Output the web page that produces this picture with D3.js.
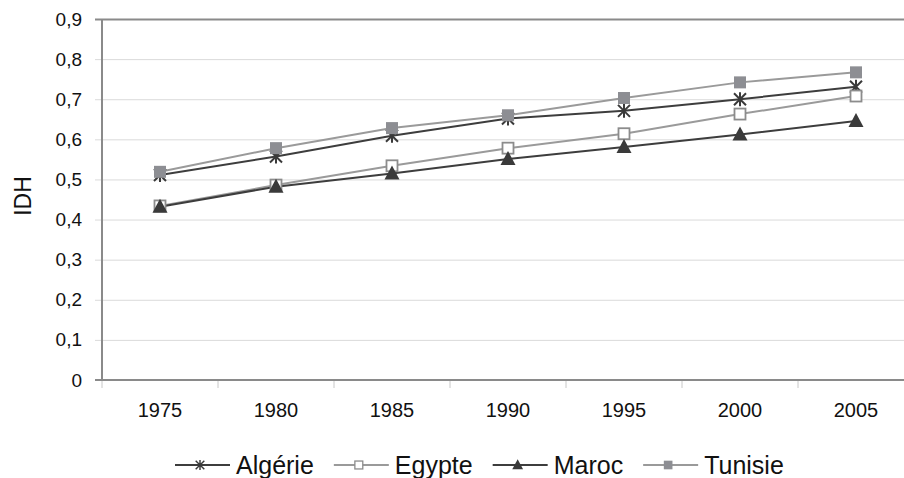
<!DOCTYPE html>
<html>
<head>
<meta charset="utf-8">
<script src="https://cdn.jsdelivr.net/npm/d3@7"></script>
<style>
  body { margin: 0; background: #fff; }
  text { font-family: "Liberation Sans", Arial, sans-serif; fill: #111; }
</style>
</head>
<body>
<svg id="chart" width="904" height="478"></svg>
<script>
// data
const years = ["1975", "1980", "1985", "1990", "1995", "2000", "2005"];
const algerie = [0.511, 0.557, 0.609, 0.652, 0.671, 0.700, 0.731];
const egypte = [0.434, 0.486, 0.534, 0.578, 0.614, 0.663, 0.708];
const maroc = [0.432, 0.482, 0.515, 0.551, 0.581, 0.612, 0.646];
const tunisie = [0.519, 0.578, 0.628, 0.660, 0.703, 0.742, 0.767];
const yTicks = [0, 0.1, 0.2, 0.3, 0.4, 0.5, 0.6, 0.7, 0.8, 0.9];

const series = [
  { name: "Algérie", values: algerie, line: "#3d3d3d", marker: "star" },
  { name: "Egypte", values: egypte, line: "#9a9a9a", marker: "openSquare" },
  { name: "Maroc", values: maroc, line: "#3d3d3d", marker: "triangle" },
  { name: "Tunisie", values: tunisie, line: "#9a9a9a", marker: "square" },
];

/******** scales ********/
const plotLeft = 102, plotTop = 19, plotBottom = 380, band = 116;
const svg = d3.select("#chart");
const x = d3.scaleBand().domain(years).range([plotLeft, plotLeft + band * years.length]).padding(0);
const y = d3.scaleLinear().domain([0, 0.9]).range([plotBottom, plotTop]);
const cx = (d) => x(d) + x.bandwidth() / 2;
const fmt = (d) => (d === 0 ? "0" : d.toFixed(1).replace(".", ","));

/******** grid + axes ********/
const yAxis = d3.axisLeft(y).tickValues(yTicks).tickFormat(fmt).tickSize(0).tickPadding(20);
const gy = svg.append("g").attr("transform", `translate(${plotLeft},0)`).call(yAxis);
gy.select(".domain").remove();
gy.selectAll(".tick text").style("font-size", "19px").attr("fill", "#111");
gy.selectAll(".tick line")
  .attr("x1", -7)
  .attr("x2", 904)
  .attr("stroke", (d) => (d === 0.9 ? "#8a8a8a" : "#dadada"))
  .attr("stroke-width", (d) => (d === 0.9 ? 2 : 1));

// x band boundary ticks
svg.append("g")
  .selectAll("line")
  .data(years.concat(["end"]))
  .join("line")
  .attr("x1", (d, i) => plotLeft + i * band)
  .attr("x2", (d, i) => plotLeft + i * band)
  .attr("y1", plotBottom)
  .attr("y2", plotBottom + 8)
  .attr("stroke", "#c8c8c8");

const xAxis = d3.axisBottom(x).tickSize(0).tickPadding(23);
const gx = svg.append("g").attr("transform", `translate(0,${plotBottom})`).call(xAxis);
gx.select(".domain").remove();
gx.selectAll(".tick text").style("font-size", "20px").attr("fill", "#111");

// frame lines
svg.append("line").attr("x1", plotLeft).attr("x2", plotLeft).attr("y1", plotTop).attr("y2", plotBottom + 1).attr("stroke", "#8a8a8a").attr("stroke-width", 2);
svg.append("line").attr("x1", plotLeft - 7).attr("x2", 904).attr("y1", plotBottom).attr("y2", plotBottom).attr("stroke", "#8a8a8a").attr("stroke-width", 2);

// axis title
svg.append("text")
  .text("IDH")
  .attr("transform", `translate(31,196) rotate(-90)`)
  .attr("text-anchor", "middle")
  .style("font-size", "23px");

/******** markers ********/
function drawMarker(g, type) {
  if (type === "star") {
    g.append("path")
      .attr("d", "M0,-7L0,7M-6,-6L6,6M-6,6L6,-6")
      .attr("stroke", "#3a3a3a")
      .attr("stroke-width", 2)
      .attr("fill", "none");
  } else if (type === "openSquare") {
    g.append("rect").attr("x", -5.5).attr("y", -5.5).attr("width", 11).attr("height", 11)
      .attr("fill", "#fff").attr("stroke", "#8c8c8c").attr("stroke-width", 1.8);
  } else if (type === "triangle") {
    g.append("path").attr("d", "M0,-8L7.5,6L-7.5,6Z").attr("fill", "#3a3a3a");
  } else {
    g.append("rect").attr("x", -6).attr("y", -6).attr("width", 12).attr("height", 12)
      .attr("fill", "#8d8e93");
  }
}

const line = d3.line().x((d, i) => cx(years[i])).y((d) => y(d));
const plot = svg.append("g");
series.forEach((s) => {
  plot.append("path")
    .attr("d", line(s.values))
    .attr("fill", "none")
    .attr("stroke", s.line)
    .attr("stroke-width", 2);
});
series.forEach((s) => {
  plot.append("g")
    .selectAll("g")
    .data(s.values)
    .join("g")
    .attr("transform", (d, i) => `translate(${cx(years[i])},${y(d)})`)
    .each(function () {
      drawMarker(d3.select(this), s.marker);
    });
});

/******** legend ********/
const legend = svg.append("g").attr("transform", "translate(0,465)");
let lx = 175;
series.forEach((s) => {
  const g = legend.append("g").attr("transform", `translate(${lx},0)`);
  g.append("line").attr("x1", 0).attr("x2", 55).attr("y1", 0).attr("y2", 0)
    .attr("stroke", s.line).attr("stroke-width", 2);
  const m = g.append("g").attr("transform", "translate(25,0) scale(0.72)");
  drawMarker(m, s.marker);
  const t = g.append("text").text(s.name).attr("x", 61).attr("y", 8.5).style("font-size", "25px");
  lx += 61 + t.node().getComputedTextLength() + 20;
});
</script>
</body>
</html>
